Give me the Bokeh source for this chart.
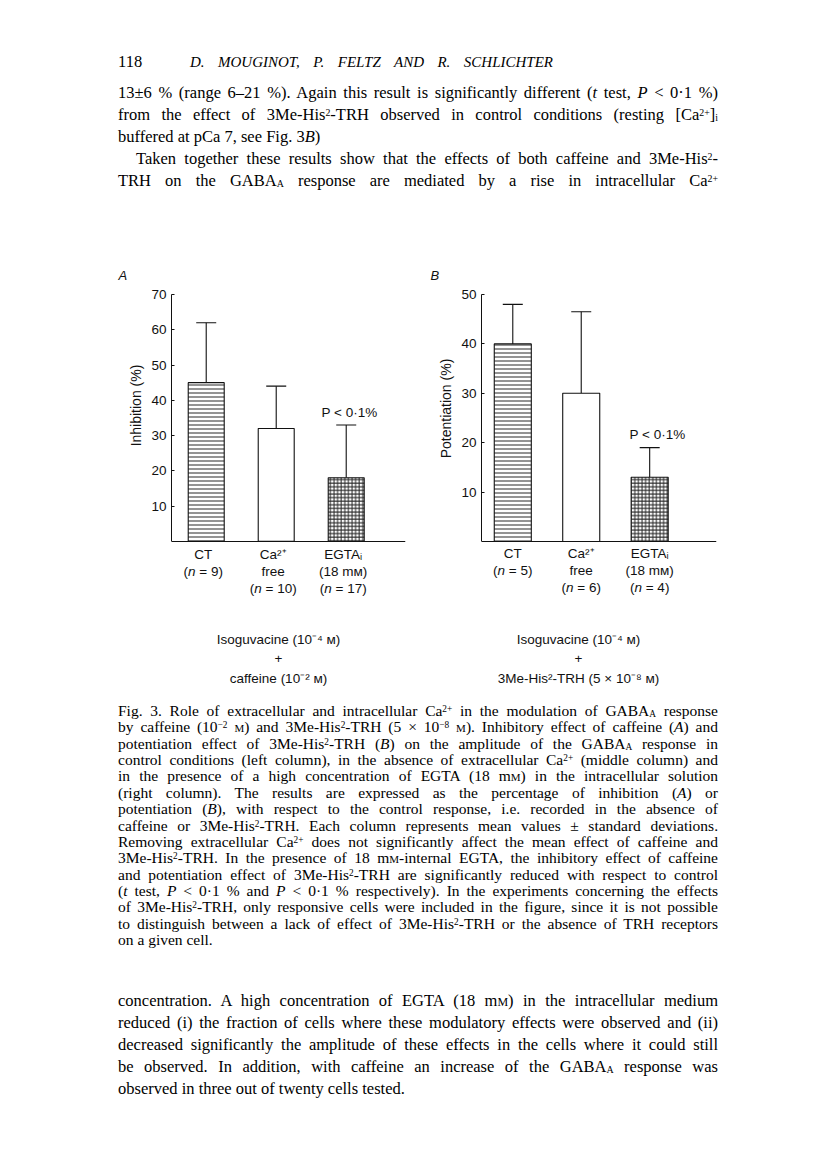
from bokeh.plotting import figure
from bokeh.models import Range1d, FixedTicker, Label, Whisker, TeeHead, ColumnDataSource, Div, Title
from bokeh.layouts import column, row
from bokeh.embed import file_html
from bokeh.resources import INLINE

# ---------------- data ----------------
cat_line1 = ["CT", "Ca²⁺", "EGTAᵢ"]
cat_line2 = ["", "free", "(18 mᴍ)"]
a_mean = [45, 32, 18]
a_sd = [17, 12, 15]
a_n = [9, 10, 17]
b_mean = [40, 30, 13]
b_sd = [8, 16.5, 6]
b_n = [5, 6, 4]
a_ticks = [10, 20, 30, 40, 50, 60, 70]
b_ticks = [10, 20, 30, 40, 50]
bar_hatch = ["-", " ", "+"]
bar_hatch_scale = [4.0, 4.0, 3.6]
a_ylabel = "Inhibition (%)"
b_ylabel = "Potentiation (%)"
p_note = "P < 0·1%"
a_treat = ["Isoguvacine (10⁻⁴ ᴍ)", "+", "caffeine (10⁻² ᴍ)"]
b_treat = ["Isoguvacine (10⁻⁴ ᴍ)", "+", "3Me-His²-TRH (5 × 10⁻⁸ ᴍ)"]

INK = "#111111"
SANS = "Liberation Sans"
SERIF = "Liberation Serif"
FS = 13.5   # chart font size (px)
YL = 14     # y label font size

# approx. advance widths (em) for Liberation Sans
ADV = {"(": .333, ")": .333, "n": .556, " ": .278, "\u00a0": .278, "=": .584,
       "I": .278, "h": .556, "b": .556, "i": .222, "t": .278, "o": .556,
       "P": .667, "e": .556, "a": .556, "%": .889}
for d in "0123456789":
    ADV[d] = .556


def sw(s, size):
    return sum(ADV.get(c, .556) for c in s) * size


PANEL_TOP = 250
PANEL_H = 450


def make_panel(letter, ox, W, frame, ymax, xstart, unit, barw, means, sds, ns,
               ticks, ylabel, ylabel_cy, lab_dx, note_xy, treat, treat_cx, title_off):
    fl, fr, ft, base = frame
    H = PANEL_H
    oy = PANEL_TOP
    bb = 6                       # bottom border
    fb = oy + H - bb             # frame bottom (page px)
    ppu = (base - ft) / ymax     # pixels per unit
    ymin = -(fb - base) / ppu
    p = figure(width=W, height=H,
               x_range=Range1d(xstart, xstart + (fr - fl) / unit),
               y_range=Range1d(ymin, ymax),
               output_backend="svg", toolbar_location=None,
               min_border_left=fl - ox, min_border_right=ox + W - fr,
               min_border_top=ft - oy, min_border_bottom=bb)
    p.outline_line_color = None
    p.grid.visible = False
    p.background_fill_color = "white"
    p.border_fill_color = "white"

    p.title.text = letter
    p.title.text_font = SANS
    p.title.text_font_style = "italic"
    p.title.text_font_size = "13px"
    p.title.text_color = INK
    p.title.align = "left"
    p.title.offset = title_off
    p.title.standoff = 24

    def xd(px):
        return xstart + (px - fl) / unit

    def yd(py):
        return (base - py) / ppu

    xs = [1, 2, 3]
    upper = [m + s for m, s in zip(means, sds)]
    src = ColumnDataSource(dict(x=xs, top=means, upper=upper,
                                hatch=bar_hatch, hs=bar_hatch_scale))
    p.vbar(x="x", top="top", width=barw, bottom=0, source=src,
           fill_color="white", line_color=INK, line_width=1.1,
           hatch_pattern="hatch", hatch_scale="hs", hatch_color=INK,
           hatch_weight=1, hatch_alpha=0.9)
    wh = Whisker(source=src, base="x", lower="top", upper="upper",
                 line_color=INK, line_width=1.1,
                 upper_head=TeeHead(size=20, line_color=INK, line_width=1.1),
                 lower_head=None)
    p.add_layout(wh)

    ya = p.yaxis[0]
    ya.ticker = FixedTicker(ticks=ticks)
    ya.bounds = (0, ymax)
    ya.major_tick_in = 3
    ya.major_tick_out = 0
    ya.minor_tick_line_color = None
    ya.axis_line_color = INK
    ya.major_tick_line_color = INK
    ya.major_label_text_font = SANS
    ya.major_label_text_font_size = f"{FS}px"
    ya.major_label_text_color = INK
    ya.major_label_standoff = 5

    # y-axis title, centred on the 0..ymax part of the axis
    ttl = Title(text=ylabel, align="left", text_font=SANS, text_font_style="normal",
                text_font_size=f"{YL}px", text_color=INK,
                offset=fb - (ylabel_cy + sw(ylabel, YL) / 2), standoff=10)
    p.add_layout(ttl, "left")

    xa = p.xaxis[0]
    xa.fixed_location = 0
    xa.ticker = FixedTicker(ticks=[])
    xa.major_tick_in = 0
    xa.major_tick_out = 0
    xa.major_label_standoff = 0
    xa.major_tick_line_color = None
    xa.minor_tick_line_color = None
    xa.major_label_text_font_size = "0px"
    xa.axis_line_color = INK

    def lab(text, x, y, size=FS, style="normal", align="center", dx=0):
        p.add_layout(Label(x=x, y=y, x_offset=dx, text=text, text_font=SANS,
                           text_font_size=f"{size}px", text_font_style=style,
                           text_align=align, text_baseline="middle",
                           text_color=INK))

    # significance note
    lab(p_note, xd(note_xy[0]), yd(note_xy[1]))

    # category labels
    rows_y = [553, 570, 587]
    for i, x in enumerate(xs):
        lab(cat_line1[i], x, yd(rows_y[0]), dx=lab_dx)
        r = 1
        if cat_line2[i]:
            lab(cat_line2[i], x, yd(rows_y[1]), dx=lab_dx)
            r = 2
        rest = f"\u00a0=\u00a0{ns[i]})"
        total = sw("(", FS) + sw("n", FS) + sw(rest, FS)
        start = lab_dx - total / 2
        lab("(", x, yd(rows_y[r]), align="left", dx=start)
        lab("n", x, yd(rows_y[r]), align="left", style="italic",
            dx=start + sw("(", FS))
        lab(rest, x, yd(rows_y[r]), align="left",
            dx=start + sw("(", FS) + sw("n", FS))

    # treatment labels
    for t, py in zip(treat, [639, 658, 678]):
        lab(t, xd(treat_cx), yd(py))
    return p


pA = make_panel("A", 0, 416, (171, 405, 292, 540), 70, 0.504, 70.0, 0.514,
                a_mean, a_sd, a_n, a_ticks, a_ylabel, 405, -3, (349, 411), a_treat, 278, -53)
pB = make_panel("B", 416, 392, (481, 716, 294, 541), 50, 0.543, 68.45, 0.541,
                b_mean, b_sd, b_n, b_ticks, b_ylabel, 408, 0, (657, 434), b_treat, 578, -51)


# ---------------- page text ----------------
def sup(s):
    return f'<span style="font-size:60%;vertical-align:0.4em;line-height:0">{s}</span>'


def sub(s):
    return f'<span style="font-size:60%;vertical-align:-0.15em;line-height:0">{s}</span>'


def sc(s):
    return f'<span style="font-variant:small-caps">{s}</span>'


def it(s):
    return f"<i>{s}</i>"


HIS = f"3Me-His{sup('2')}-TRH"
CA = f"Ca{sup('2+')}"
GABA = f"GABA{sub('A')}"

top_lines = [
    f"13±6 % (range 6–21 %). Again this result is significantly different ({it('t')} test, {it('P')} &lt; 0·1 %)",
    f"from the effect of {HIS} observed in control conditions (resting [{CA}]{sub('i')}",
    f"buffered at pCa 7, see Fig. 3{it('B')})",
    f"Taken together these results show that the effects of both caffeine and 3Me-His{sup('2')}-",
    f"TRH on the {GABA} response are mediated by a rise in intracellular {CA}",
]
top_left = [118, 118, 118, 136, 118]
top_just = [True, True, False, True, True]

caption_lines = [
    f"Fig. 3. Role of extracellular and intracellular {CA} in the modulation of {GABA} response",
    f"by caffeine (10{sup('−2')} {sc('m')}) and {HIS} (5 × 10{sup('−8')} {sc('m')}). Inhibitory effect of caffeine ({it('A')}) and",
    f"potentiation effect of {HIS} ({it('B')}) on the amplitude of the {GABA} response in",
    f"control conditions (left column), in the absence of extracellular {CA} (middle column) and",
    f"in the presence of a high concentration of EGTA (18 m{sc('m')}) in the intracellular solution",
    f"(right column). The results are expressed as the percentage of inhibition ({it('A')}) or",
    f"potentiation ({it('B')}), with respect to the control response, i.e. recorded in the absence of",
    f"caffeine or {HIS}. Each column represents mean values ± standard deviations.",
    f"Removing extracellular {CA} does not significantly affect the mean effect of caffeine and",
    f"{HIS}. In the presence of 18 m{sc('m')}-internal EGTA, the inhibitory effect of caffeine",
    f"and potentiation effect of {HIS} are significantly reduced with respect to control",
    f"({it('t')} test, {it('P')} &lt; 0·1 % and {it('P')} &lt; 0·1 % respectively). In the experiments concerning the effects",
    f"of {HIS}, only responsive cells were included in the figure, since it is not possible",
    f"to distinguish between a lack of effect of {HIS} or the absence of TRH receptors",
    "on a given cell.",
]

bottom_lines = [
    f"concentration. A high concentration of EGTA (18 m{sc('m')}) in the intracellular medium",
    "reduced (i) the fraction of cells where these modulatory effects were observed and (ii)",
    "decreased significantly the amplitude of these effects in the cells where it could still",
    f"be observed. In addition, with caffeine an increase of the {GABA} response was",
    "observed in three out of twenty cells tested.",
]

RIGHT = 718
TXT = "#000000"


def line_html(html, left, cy, oy, size, justify, lh=20, italic=False, right=RIGHT):
    top = cy - oy - lh / 2
    st = (f"position:absolute;left:{left}px;top:{top:.1f}px;white-space:nowrap;"
          f"font-family:'{SERIF}';font-size:{size}px;line-height:{lh}px;color:{TXT};")
    if italic:
        st += "font-style:italic;"
    if justify:
        st += f"width:{right - left}px;text-align:justify;text-align-last:justify;"
    return f'<div style="{st}">{html}</div>'


PAGE_W = 808
TOP_H = PANEL_TOP
parts = []
parts.append(line_html("118", 118, 62, 0, 16.5, False))
parts.append(line_html("D. MOUGINOT, P. FELTZ AND R. SCHLICHTER", 190, 62, 0, 15, True,
                       italic=True, right=553))
for i, t in enumerate(top_lines):
    parts.append(line_html(t, top_left[i], 93 + 22 * i, 0, 16.5, top_just[i]))
top_div = Div(text=f'<div style="position:relative;width:{PAGE_W}px;height:{TOP_H}px;background:white">{"".join(parts)}</div>',
              width=PAGE_W, height=TOP_H, margin=0)

BOT_Y = PANEL_TOP + PANEL_H
BOT_H = 1158 - BOT_Y
parts = []
for i, t in enumerate(caption_lines):
    parts.append(line_html(t, 118, 711 + 16.36 * i, BOT_Y, 15.5, i < len(caption_lines) - 1, lh=16))
for i, t in enumerate(bottom_lines):
    parts.append(line_html(t, 118, 1001 + 22 * i, BOT_Y, 16.5, i < len(bottom_lines) - 1))
bottom_div = Div(text=f'<div style="position:relative;width:{PAGE_W}px;height:{BOT_H}px;background:white">{"".join(parts)}</div>',
                 width=PAGE_W, height=BOT_H, margin=0)

layout = column(top_div, row(pA, pB, spacing=0), bottom_div, spacing=0)
open("out.html", "w").write(file_html(layout, INLINE))
